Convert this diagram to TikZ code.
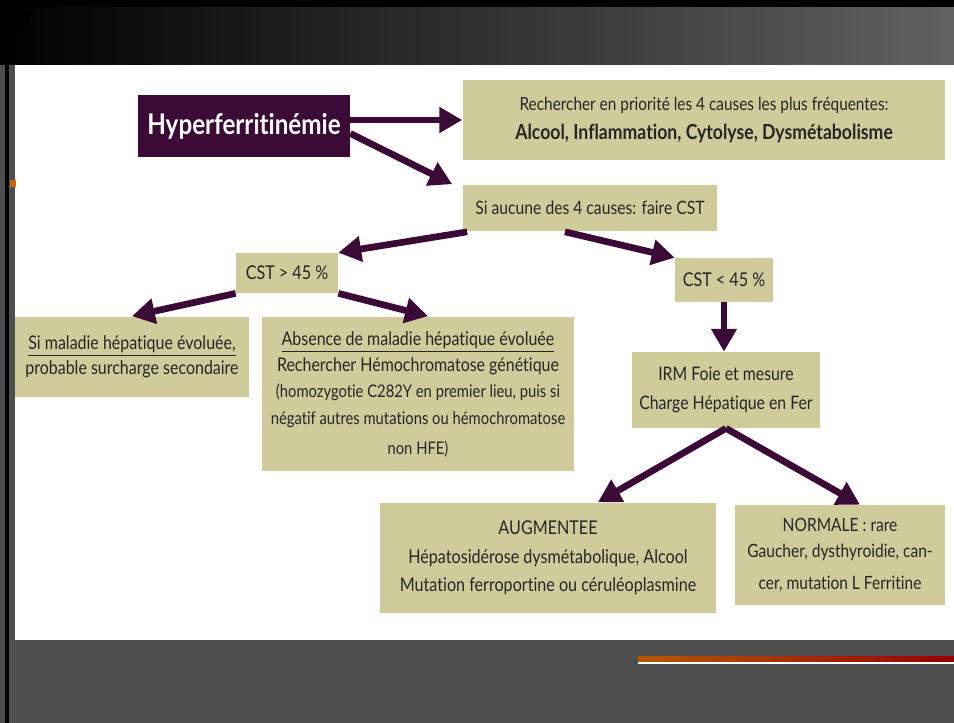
\documentclass[tikz,border=0pt]{standalone}
\usepackage{fontspec}
\setmainfont{Lato}[FakeStretch=0.85,Ligatures=NoCommon]
\usetikzlibrary{arrows.meta}
\definecolor{mypurple}{HTML}{3B0A36}
\definecolor{mykhaki}{HTML}{CFCB9B}
\definecolor{mygray}{HTML}{4E4E4E}

\begin{document}
\begin{tikzpicture}[x=0.02cm,y=-0.02cm,
    boite/.style={fill=mykhaki,inner sep=0pt,align=center,text=black!85},
    fleche/.style={draw=mypurple,line width=3.8pt,-{Triangle[length=13pt,width=14pt]}}]
        % Fond
        \useasboundingbox (0,0) rectangle (954,723);
        \fill[mygray] (0,0) rectangle (954,723);
        \shade[left color=black,right color=black!62!white] (0,0) rectangle (954,65);
        \fill[black] (0,0) rectangle (954,7);
        \fill[black] (5,0) rectangle (9,723);
        \fill[black] (10,10) rectangle (30,28);
        \fill[white] (15,65) rectangle (954,640);
        \fill[orange!80!black] (10,180) rectangle (16,187);
        \shade[left color=orange!70!black,right color=red!60!black] (638,656) rectangle (954,662);
        \fill[white] (638,662) rectangle (954,664);

        % Boites
        \node[fill=mypurple,text=white,font=\bfseries\fontsize{16.2}{18}\selectfont,
              minimum width=4.24cm,minimum height=1.24cm,inner sep=0pt] (hyper) at (244,126) {Hyperferritinémie};
        \node[boite,minimum width=9.66cm,minimum height=1.6cm,font=\fontsize{10.3}{16.5}\selectfont] (causes) at (704,120)
            {Rechercher en priorité les 4 causes les plus fréquentes:\\
             {\bfseries\fontsize{11.8}{16.5}\selectfont Alcool, Inflammation, Cytolyse, Dysmétabolisme}};
        \node[boite,minimum width=5.1cm,minimum height=0.94cm,font=\fontsize{10.5}{14}\selectfont] (aucune) at (590,208)
            {Si aucune des 4 causes: faire CST};
        \node[boite,minimum width=2.04cm,minimum height=0.8cm,font=\fontsize{10.8}{14}\selectfont] (cstsup) at (287,273)
            {CST > 45 \%};
        \node[boite,minimum width=1.96cm,minimum height=0.88cm,font=\fontsize{10.8}{14}\selectfont] (cstinf) at (724,280)
            {CST < 45 \%};
        \node[boite,minimum width=4.7cm,minimum height=1.62cm,font=\fontsize{10.7}{14.2}\selectfont] (maladie) at (132,357)
            {\underline{Si maladie hépatique évoluée,}\\ probable surcharge secondaire};
        \node[boite,minimum width=6.26cm,minimum height=3.1cm,font=\fontsize{10.7}{15}\selectfont] (absence) at (418,394)
            {\underline{Absence de maladie hépatique évoluée}\\
             Rechercher Hémochromatose génétique\\
             {\fontsize{9.9}{15.5}\selectfont (homozygotie C282Y en premier lieu, puis si}\\
             {\fontsize{9.9}{15.5}\selectfont négatif autres mutations ou hémochromatose}\\[2pt]
             {\fontsize{9.9}{15.5}\selectfont non HFE)}};
        \node[boite,minimum width=3.76cm,minimum height=1.52cm,font=\fontsize{10.6}{16.5}\selectfont] (irm) at (726,390)
            {IRM Foie et mesure\\ Charge Hépatique en Fer};
        \node[boite,minimum width=6.74cm,minimum height=2.22cm,font=\fontsize{10.8}{16.2}\selectfont] (augm) at (548,558)
            {AUGMENTEE\\ Hépatosidérose dysmétabolique, Alcool\\ Mutation ferroportine ou céruléoplasmine};
        \node[boite,minimum width=4.2cm,minimum height=2cm,font=\fontsize{10.4}{15}\selectfont] (normale) at (840,555)
            {NORMALE : rare\\ Gaucher, dysthyroidie, can-\\[3pt] cer, mutation L Ferritine};

        % Fleches
        \draw[fleche] (hyper.east |- causes.west) -- (causes.west);
        \draw[fleche] ([yshift=-0.15cm]hyper.east) -- ([xshift=-0.2cm]aucune.north west);
        \draw[fleche] ([xshift=0.1cm]aucune.south west) -- (cstsup.north east);
        \draw[fleche] ([xshift=-0.5cm]aucune.south) -- (cstinf.north west);
        \draw[fleche] (cstsup.south west) -- (maladie.north);
        \draw[fleche] (cstsup.south east) -- ([xshift=0.2cm]absence.north);
        \draw[fleche] (cstinf.south) -- (cstinf.south |- irm.north);
        \draw[fleche] (irm.south) -- ([xshift=1cm]augm.north);
        \draw[fleche] (irm.south) -- ([xshift=0.4cm]normale.north);
\end{tikzpicture}
\end{document}
